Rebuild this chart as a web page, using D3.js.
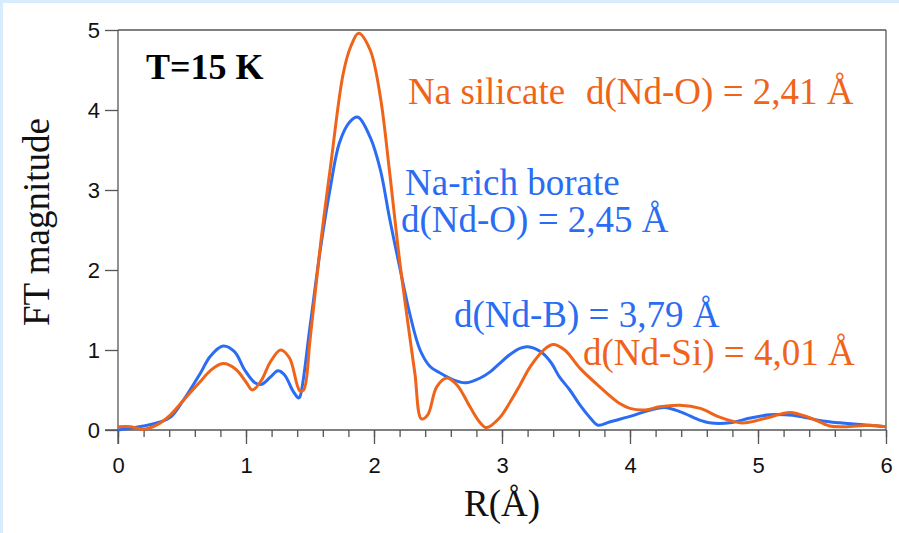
<!DOCTYPE html>
<html>
<head>
<meta charset="utf-8">
<script src="https://cdn.jsdelivr.net/npm/d3@7"></script>
<style>
  body { margin: 0; background: #fff; }
  svg { display: block; }
</style>
</head>
<body>
<div id="chart"></div>
<script>
// Na silicate (orange)
const silicateR = [0, 0.1, 0.2, 0.3, 0.41, 0.51, 0.64, 0.72, 0.82, 0.92, 1.0, 1.05, 1.12, 1.19, 1.27, 1.34, 1.42, 1.45, 1.5, 1.58, 1.66, 1.76, 1.82, 1.88, 1.97, 2.05, 2.12, 2.2, 2.28, 2.32, 2.37, 2.42, 2.49, 2.57, 2.65, 2.75, 2.83, 2.88, 2.98, 3.06, 3.14, 3.22, 3.34, 3.40, 3.49, 3.61, 3.77, 3.92, 4.0, 4.12, 4.23, 4.39, 4.55, 4.7, 4.86, 4.94, 5.09, 5.25, 5.41, 5.56, 5.68, 5.88, 6.0]
const silicateFT = [0.04, 0.04, 0.01, 0.06, 0.19, 0.37, 0.6, 0.74, 0.83, 0.76, 0.6, 0.5, 0.62, 0.85, 1.0, 0.9, 0.49, 0.5, 1.12, 2.29, 3.29, 4.46, 4.8, 4.96, 4.75, 4.16, 3.25, 2.12, 1.16, 0.7, 0.14, 0.19, 0.54, 0.65, 0.56, 0.29, 0.09, 0.03, 0.15, 0.34, 0.56, 0.79, 1.02, 1.07, 1.0, 0.77, 0.53, 0.33, 0.27, 0.25, 0.29, 0.31, 0.27, 0.16, 0.09, 0.1, 0.16, 0.22, 0.15, 0.05, 0.04, 0.06, 0.04]

// Na-rich borate (blue)
const borateR = [0, 0.2, 0.33, 0.41, 0.51, 0.64, 0.72, 0.82, 0.91, 0.99, 1.07, 1.12, 1.19, 1.25, 1.30, 1.37, 1.41, 1.42, 1.5, 1.58, 1.66, 1.73, 1.81, 1.875, 1.97, 2.05, 2.12, 2.2, 2.28, 2.36, 2.44, 2.52, 2.59, 2.67, 2.72, 2.83, 2.91, 2.98, 3.06, 3.14, 3.2, 3.30, 3.38, 3.45, 3.53, 3.61, 3.69, 3.75, 3.84, 4.0, 4.16, 4.27, 4.39, 4.55, 4.62, 4.78, 4.94, 5.09, 5.21, 5.33, 5.48, 5.64, 5.8, 6.0]
const borateFT = [0, 0.05, 0.1, 0.16, 0.37, 0.7, 0.92, 1.05, 0.98, 0.75, 0.59, 0.57, 0.66, 0.74, 0.69, 0.48, 0.40, 0.41, 1.29, 2.25, 3.04, 3.59, 3.85, 3.91, 3.66, 3.25, 2.66, 2.04, 1.45, 1.0, 0.79, 0.71, 0.65, 0.6, 0.59, 0.65, 0.73, 0.83, 0.94, 1.02, 1.04, 0.98, 0.85, 0.66, 0.5, 0.31, 0.15, 0.06, 0.1, 0.17, 0.25, 0.28, 0.23, 0.12, 0.09, 0.09, 0.15, 0.19, 0.19, 0.17, 0.12, 0.09, 0.07, 0.04]

const xTicks = [0, 1, 2, 3, 4, 5, 6]
const yTicks = [0, 1, 2, 3, 4, 5]

const ORANGE = "#f0641a"
const BLUE = "#2a6cf2"
const AXIS = "#555"

const width = 899, height = 533
const margin = { left: 118, right: 13, top: 30, bottom: 103 }

const svg = d3.select("#chart").append("svg")
    .attr("width", width)
    .attr("height", height)

// page background: light blue strip top and left
svg.append("rect").attr("width", width).attr("height", height).attr("fill", "#d9ecfc")
svg.append("rect").attr("x", 3).attr("y", 3).attr("width", width - 3).attr("height", height - 3).attr("fill", "#fff")

const x = d3.scaleLinear().domain([0, 6]).range([margin.left, width - margin.right])
const y = d3.scaleLinear().domain([0, 5]).range([height - margin.bottom, margin.top])

// frame (top + right)
svg.append("line")
    .attr("x1", x(0)).attr("x2", x(6)).attr("y1", y(5)).attr("y2", y(5))
    .attr("stroke", AXIS).attr("stroke-width", 1.3)
svg.append("line")
    .attr("x1", x(6)).attr("x2", x(6)).attr("y1", y(5)).attr("y2", y(0))
    .attr("stroke", AXIS).attr("stroke-width", 1.3)

// x axis with minor ticks
const xAxisG = svg.append("g")
    .attr("transform", "translate(0," + y(0) + ")")
xAxisG.call(d3.axisBottom(x).tickValues(d3.range(0, 6.01, 0.2)).tickSize(7).tickFormat(""))
xAxisG.call(g => g.select(".domain").remove())
const xMajor = svg.append("g")
    .attr("transform", "translate(0," + y(0) + ")")
    .call(d3.axisBottom(x).tickValues(xTicks).tickSize(14).tickPadding(13).tickFormat(d3.format("d")))
xMajor.select(".domain").attr("d", "M" + (x(0) - 13) + ",0H" + x(6))

// y axis
const yAxisG = svg.append("g")
    .attr("transform", "translate(" + x(0) + ",0)")
    .call(d3.axisLeft(y).tickValues(yTicks).tickSize(13).tickPadding(5).tickFormat(d3.format("d")))
yAxisG.select(".domain").attr("d", "M0," + y(5) + "V" + (y(0) + 14))

svg.selectAll(".tick line, .domain").attr("stroke", AXIS).attr("stroke-width", 1.3)
svg.selectAll(".tick text")
    .attr("fill", "#111")
    .style("font-family", "'Liberation Sans', Arial, sans-serif")
    .style("font-size", "22px")

// curves
const line = d3.line()
    .x(d => x(d[0]))
    .y(d => y(d[1]))
    .curve(d3.curveCatmullRom.alpha(0.5))

const borate = borateR.map((r, i) => [r, borateFT[i]])
const silicate = silicateR.map((r, i) => [r, silicateFT[i]])

svg.append("path")
    .datum(borate)
    .attr("d", line)
    .attr("fill", "none")
    .attr("stroke", BLUE)
    .attr("stroke-width", 3)

svg.append("path")
    .datum(silicate)
    .attr("d", line)
    .attr("fill", "none")
    .attr("stroke", ORANGE)
    .attr("stroke-width", 3)

// labels
const serif = "'Liberation Serif', 'Times New Roman', serif"

svg.append("text")
    .attr("x", x(3)).attr("y", 516)
    .attr("text-anchor", "middle")
    .style("font-family", serif).style("font-size", "37px").attr("fill", "#111")
    .text("R(Å)")

svg.append("text")
    .attr("transform", "translate(49," + 222 + ") rotate(-90)")
    .attr("text-anchor", "middle")
    .style("font-family", serif).style("font-size", "37px").attr("fill", "#111")
    .text("FT magnitude")

svg.append("text")
    .attr("x", 146).attr("y", 79)
    .style("font-family", serif).style("font-size", "36px").style("font-weight", "bold").attr("fill", "#000")
    .text("T=15 K")

const annotations = [
    { text: "Na silicate", x: 408, y: 104, color: ORANGE },
    { text: "d(Nd-O) = 2,41 Å", x: 586, y: 104, color: ORANGE },
    { text: "Na-rich borate", x: 405, y: 195, color: BLUE },
    { text: "d(Nd-O) = 2,45 Å", x: 401, y: 232, color: BLUE },
    { text: "d(Nd-B) = 3,79 Å", x: 454, y: 327, color: BLUE },
    { text: "d(Nd-Si) = 4,01 Å", x: 583, y: 365, color: ORANGE }
]

svg.selectAll(".note")
    .data(annotations)
    .enter()
    .append("text")
    .attr("class", "note")
    .attr("x", d => d.x)
    .attr("y", d => d.y)
    .attr("fill", d => d.color)
    .style("font-family", serif)
    .style("font-size", "37px")
    .text(d => d.text)
</script>
</body>
</html>
